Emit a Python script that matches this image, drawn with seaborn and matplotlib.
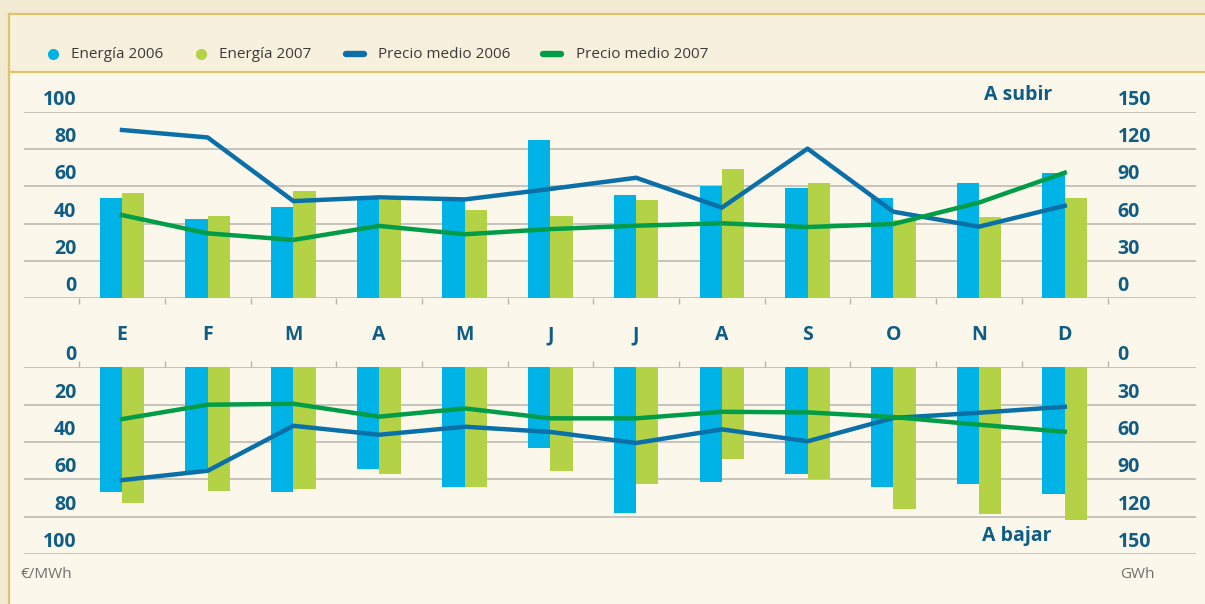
import matplotlib
matplotlib.use("Agg")
import matplotlib.pyplot as plt
import numpy as np
import pandas as pd
import seaborn as sns
from matplotlib.lines import Line2D
from matplotlib.patches import Rectangle
from matplotlib.transforms import ScaledTranslation

# ─── Data ─────────────────────────────────────────────────────────────────────
months = ["Ene", "Feb", "Mar", "Abr", "May", "Jun", "Jul", "Ago", "Sep", "Oct", "Nov", "Dic"]
month_labels = ["E", "F", "M", "A", "M", "J", "J", "A", "S", "O", "N", "D"]
series = ["Energía 2006", "Energía 2007", "Precio medio 2006", "Precio medio 2007"]

# A subir: energía (GWh) y precio medio (€/MWh)
energia06_sube = [81, 64, 73, 80, 78, 127, 83, 90, 89, 81, 93, 101]
energia07_sube = [85, 66, 86, 79, 71, 66, 79, 104, 93, 63, 65, 81]
precio06_sube = [90.2, 86.2, 52.1, 54.1, 53.0, 58.6, 64.6, 48.6, 80.2, 46.4, 38.4, 49.6]
precio07_sube = [44.6, 34.8, 31.3, 38.8, 34.3, 37.1, 38.9, 40.2, 38.2, 39.8, 51.3, 67.3]

# A bajar
energia06_baja = [100, 84, 100, 82, 96, 65, 117, 92, 86, 96, 94, 102]
energia07_baja = [109, 99, 98, 86, 96, 83, 94, 74, 90, 114, 118, 123]
precio06_baja = [60.4, 55.4, 31.3, 36.1, 31.8, 34.6, 40.5, 33.2, 39.6, 27.1, 24.3, 21.1]
precio07_baja = [27.7, 20.0, 19.5, 26.4, 22.0, 27.3, 27.3, 23.8, 24.1, 26.6, 30.7, 34.5]

eur_ticks = [0, 20, 40, 60, 80, 100]
gwh_ticks = [0, 30, 60, 90, 120, 150]

# ─── Style ────────────────────────────────────────────────────────────────────
C_E06, C_E07 = "#00B3E6", "#B3D246"
C_P06, C_P07 = "#0B6FA8", "#009C48"
TXT = "#0F5D84"
GRID = "#B6B5B0"
GOLD = "#DEC46C"
PANEL = "#FBF8EB"

plt.rcParams["font.family"] = ["Open Sans", "DejaVu Sans"]

W, H = 1205, 604


def fx(px):
    return px / W


def fy(py):
    return 1 - py / H


fig = plt.figure(figsize=(W / 100, H / 100), dpi=100)
fig.patch.set_facecolor(PANEL)

# background strips and golden frame
fig.add_artist(Rectangle((0, fy(14)), 1, 14 / H, transform=fig.transFigure,
                         color="#F3EAD3", zorder=-2))
fig.add_artist(Rectangle((0, 0), fx(9), 1, transform=fig.transFigure,
                         color="#F3EAD3", zorder=-2))
fig.add_artist(Rectangle((fx(9), fy(72)), 1 - fx(9), 58 / H, transform=fig.transFigure,
                         color="#F7F0DC", zorder=-2))
for xs, ys in [([fx(9), 1], [fy(14), fy(14)]),
               ([fx(9), 1], [fy(72), fy(72)]),
               ([fx(9), fx(9)], [fy(14), 0])]:
    fig.add_artist(Line2D(xs, ys, transform=fig.transFigure, color=GOLD, lw=1.6, zorder=-1))

label_offset = ScaledTranslation(0, 0.145, fig.dpi_scale_trans)
pos = np.arange(len(months))
bounds = np.arange(-0.5, len(months), 1)


def draw_panel(bottom_px, e06, e07, p06, p07, down):
    ax = fig.add_axes([fx(24), fy(bottom_px), 1172 / W, 186.6 / H])
    ax.patch.set_visible(False)
    df = pd.DataFrame({
        "mes": months * 2,
        "gwh": e06 + e07,
        "serie": [series[0]] * len(months) + [series[1]] * len(months),
    })
    sns.barplot(data=df, x="mes", y="gwh", hue="serie", order=months,
                hue_order=series[:2], palette=[C_E06, C_E07], width=0.52, gap=0,
                saturation=1, errorbar=None, linewidth=0, legend=False, ax=ax)

    tw = ax.twinx()
    sns.lineplot(x=pos, y=p06, color=C_P06, linewidth=3.2, ax=tw)
    sns.lineplot(x=pos, y=p07, color=C_P07, linewidth=3.2, ax=tw)

    if down:
        ax.set_ylim(150, 0)
        tw.set_ylim(100, 0)
    else:
        ax.set_ylim(0, 150)
        tw.set_ylim(0, 100)

    # GWh on the right, €/MWh on the left, labels sit above the gridlines
    ax.yaxis.tick_right()
    tw.yaxis.tick_left()
    ax.set_yticks(gwh_ticks, [str(v) for v in gwh_ticks])
    tw.set_yticks(eur_ticks, [str(v) for v in eur_ticks])
    ax.tick_params(axis="y", length=0, pad=-56.6, labelsize=14, labelcolor=TXT)
    tw.tick_params(axis="y", length=0, pad=-37.8, labelsize=14, labelcolor=TXT)
    for t in ax.get_yticklabels() + tw.get_yticklabels():
        t.set_fontweight("bold")
        t.set_transform(t.get_transform() + label_offset)

    ax.grid(axis="y", color=GRID, lw=1.1)
    ax.grid(axis="x", visible=False)
    ax.set_axisbelow(True)

    ax.set_xticks(bounds, [""] * len(bounds))
    if down:
        ax.xaxis.tick_top()
    else:
        ax.set_xticks(pos, month_labels, minor=True)
        ax.tick_params(axis="x", which="minor", length=0, pad=19.5,
                       labelsize=14, labelcolor=TXT)
        for t in ax.get_xticklabels(minor=True):
            t.set_fontweight("bold")
    ax.tick_params(axis="x", which="major", length=4, width=1, color=GRID, direction="out")

    for a in (ax, tw):
        a.set_xlabel("")
        a.set_ylabel("")
        for s in a.spines.values():
            s.set_visible(False)
    ax.set_xlim(-1.143, 12.532)
    return ax, tw


draw_panel(298.3, energia06_sube, energia07_sube, precio06_sube, precio07_sube, down=False)
draw_panel(554.0, energia06_baja, energia07_baja, precio06_baja, precio07_baja, down=True)

# legend row
legend_items = [(52.7, None, C_E06, 71.4), (201.0, None, C_E07, 219.0),
                (346.0, 364.0, C_P06, 378.0), (543.0, 561.0, C_P07, 576.0)]
for name, (x0, x1, col, tx) in zip(series, legend_items):
    if x1 is None:
        fig.add_artist(Line2D([fx(x0)], [fy(54)], transform=fig.transFigure,
                              marker="o", ms=7, color=col, lw=0))
    else:
        fig.add_artist(Line2D([fx(x0), fx(x1)], [fy(54), fy(54)], transform=fig.transFigure,
                              color=col, lw=4.6, solid_capstyle="round"))
    fig.text(fx(tx), fy(54), name, ha="left", va="center", fontsize=11, color="#3A3A3A")

fig.text(fx(1052), fy(95), "A subir", ha="right", va="center", fontsize=14,
         fontweight="bold", color=TXT)
fig.text(fx(1052), fy(536), "A bajar", ha="right", va="center", fontsize=14,
         fontweight="bold", color=TXT)
fig.text(fx(21), fy(575), "€/MWh", ha="left", va="center", fontsize=11, color="#6E6E6E")
fig.text(fx(1120), fy(575), "GWh", ha="left", va="center", fontsize=11, color="#6E6E6E")

fig.savefig("out.png", dpi=100, facecolor=fig.get_facecolor())
